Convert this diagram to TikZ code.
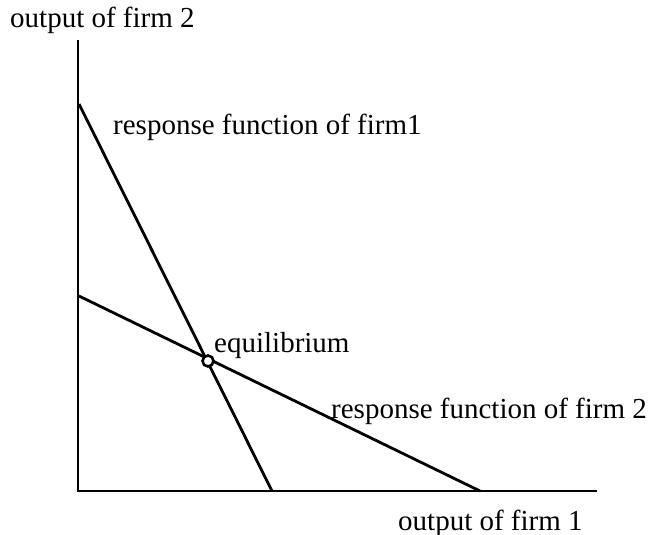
\documentclass[tikz,border=0pt]{standalone}
\usepackage{fontspec}
\setmainfont{Liberation Serif}
\begin{document}
\begin{tikzpicture}[x=1pt,y=-1pt,
  axis/.style={line width=2.8pt},
  resp/.style={line width=2.8pt},
  lbl/.style={inner sep=0pt,anchor=base west,font=\fontsize{29}{31}\selectfont}]
\useasboundingbox (0,0) rectangle (657,535);
\coordinate (O) at (78,491);
\coordinate (ytop) at (78,40);
\coordinate (xend) at (597,491);
\coordinate (a1) at (79,104);
\coordinate (b1) at (272,491);
\coordinate (a2) at (79,296);
\coordinate (b2) at (480,491);
\draw[axis] (ytop) -- (O) -- (xend);
\draw[resp] (a1) -- (b1);
\draw[resp] (a2) -- (b2);
\node[circle,draw,line width=2.6pt,minimum size=11pt,inner sep=0pt,fill=white] (eq) at (208,361) {};
\node[lbl] (ly) at (10,28) {output of firm 2};
\node[lbl] (lr1) at (113,135) {response function of firm1};
\node[lbl] (leq) at (214,352) {equilibrium};
\node[lbl] (lr2) at (331,418) {response function of firm 2};
\node[lbl] (lx) at (398,530) {output of firm 1};
\end{tikzpicture}
\end{document}
